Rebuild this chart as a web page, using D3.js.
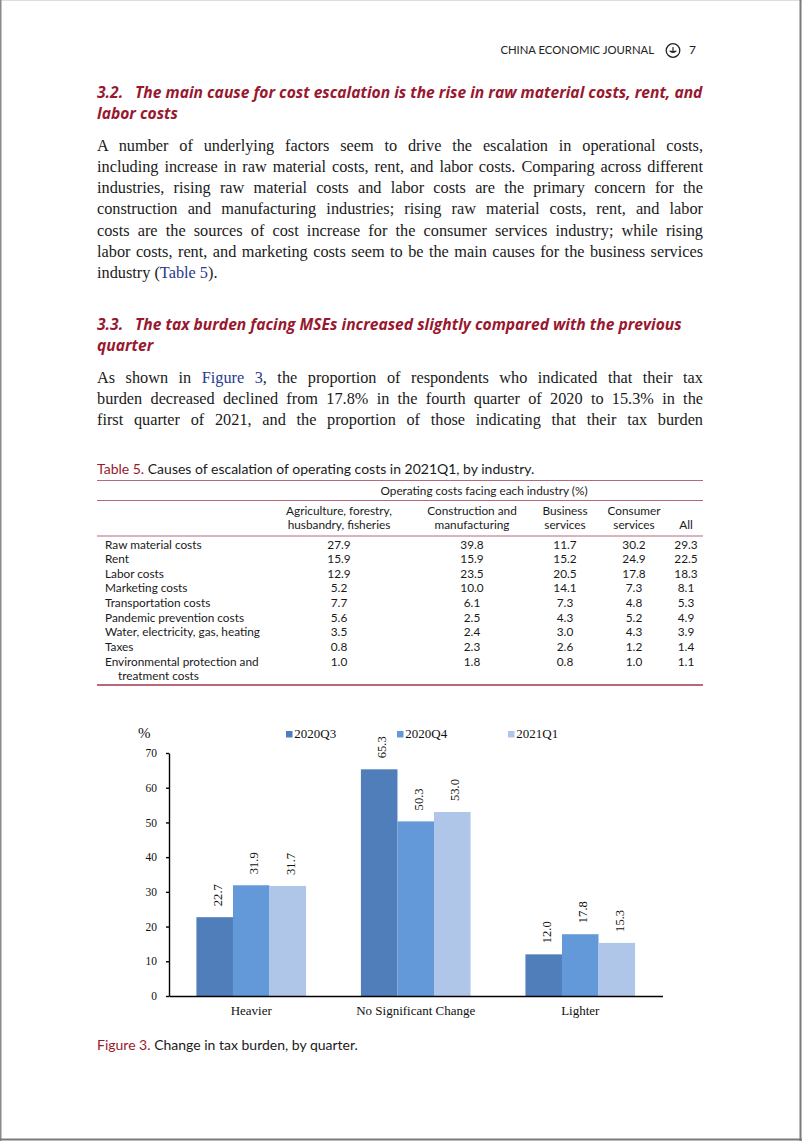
<!DOCTYPE html>
<html>
<head>
<meta charset="utf-8">
<script src="https://cdn.jsdelivr.net/npm/d3@7"></script>
<style>
  body { margin: 0; background: #fff; }
  svg { display: block; }
  .serif { font-family: "Liberation Serif", "Times New Roman", serif; }
  .sans { font-family: Lato, "Noto Sans", sans-serif; }
  .head { font-family: "Open Sans", "Noto Sans", sans-serif; }
</style>
</head>
<body>
<svg id="page" width="802" height="1141"></svg>
<script>
// ---- figure 3 data ----
var categories = ["Heavier", "No Significant Change", "Lighter"];
var quarters = ["2020Q3", "2020Q4", "2021Q1"];
var q3Values = [22.7, 65.3, 12.0];
var q4Values = [31.9, 50.3, 17.8];
var q1Values = [31.7, 53.0, 15.3];
var yTicks = [0, 10, 20, 30, 40, 50, 60, 70];

// ---- table 5 data ----
var tableHeaders = [
  ["Agriculture, forestry,", "husbandry, fisheries"],
  ["Construction and", "manufacturing"],
  ["Business", "services"],
  ["Consumer", "services"],
  ["All"]
];
var rowLabels = [
  ["Raw material costs"], ["Rent"], ["Labor costs"], ["Marketing costs"],
  ["Transportation costs"], ["Pandemic prevention costs"],
  ["Water, electricity, gas, heating"], ["Taxes"],
  ["Environmental protection and", "treatment costs"]
];
var agricultureCol = [27.9, 15.9, 12.9, 5.2, 7.7, 5.6, 3.5, 0.8, 1.0];
var constructionCol = [39.8, 15.9, 23.5, 10.0, 6.1, 2.5, 2.4, 2.3, 1.8];
var businessCol = [11.7, 15.2, 20.5, 14.1, 7.3, 4.3, 3.0, 2.6, 0.8];
var consumerCol = [30.2, 24.9, 17.8, 7.3, 4.8, 5.2, 4.3, 1.2, 1.0];
var allCol = [29.3, 22.5, 18.3, 8.1, 5.3, 4.9, 3.9, 1.4, 1.1];

// ---- page text ----
var heading32 = ["The main cause for cost escalation is the rise in raw material costs, rent, and", "labor costs"];
var para1 = [
  "A number of underlying factors seem to drive the escalation in operational costs,",
  "including increase in raw material costs, rent, and labor costs. Comparing across different",
  "industries, rising raw material costs and labor costs are the primary concern for the",
  "construction and manufacturing industries; rising raw material costs, rent, and labor",
  "costs are the sources of cost increase for the consumer services industry; while rising",
  "labor costs, rent, and marketing costs seem to be the main causes for the business services",
  "industry ([Table 5])."
];
var heading33 = ["The tax burden facing MSEs increased slightly compared with the previous", "quarter"];
var para2 = [
  "As shown in [Figure 3], the proportion of respondents who indicated that their tax",
  "burden decreased declined from 17.8% in the fourth quarter of 2020 to 15.3% in the",
  "first quarter of 2021, and the proportion of those indicating that their tax burden"
];

var RED = "#98192f", LINK = "#27398c", RULE = "#b8687a";
var LEFT = 97, RIGHT = 703;

var svg = d3.select("#page");

// page frame
svg.append("line").attr("x1", 0).attr("x2", 802).attr("y1", 0.5).attr("y2", 0.5).attr("stroke", "#ddd");
svg.append("line").attr("x1", 0.75).attr("x2", 0.75).attr("y1", 0).attr("y2", 1141).attr("stroke", "#8a8a8a").attr("stroke-width", 1.5);
svg.append("line").attr("x1", 800.5).attr("x2", 800.5).attr("y1", 0).attr("y2", 1141).attr("stroke", "#7a7a7a").attr("stroke-width", 2);
svg.append("line").attr("x1", 0).attr("x2", 802).attr("y1", 1139.5).attr("y2", 1139.5).attr("stroke", "#7a7a7a").attr("stroke-width", 2);

// running header
svg.append("text").attr("class", "sans").attr("x", 654).attr("y", 54)
  .attr("text-anchor", "end").attr("font-size", 11.3).attr("fill", "#222")
  .text("CHINA ECONOMIC JOURNAL");
var logo = svg.append("g").attr("transform", "translate(673,50.5)");
logo.append("circle").attr("r", 6.8).attr("fill", "none").attr("stroke", "#222").attr("stroke-width", 1.3);
logo.append("path").attr("d", "M-4.2,0.2 Q0,4.6 4.2,0.2 Z").attr("fill", "#222");
logo.append("rect").attr("x", -0.6).attr("y", -3.4).attr("width", 1.2).attr("height", 3.6).attr("fill", "#222");
svg.append("text").attr("class", "sans").attr("x", 689).attr("y", 54)
  .attr("font-size", 12).attr("fill", "#222").text("7");

// write one line; segments in [..] are links. justify stretches spaces to fill width
function writeLine(x, y, str, opt) {
  var t = svg.append("text").attr("x", x).attr("y", y)
    .attr("class", opt.cls).attr("font-size", opt.size)
    .attr("fill", opt.fill || "#1a1a1a")
    .style("white-space", "pre");
  if (opt.weight) t.attr("font-weight", opt.weight);
  if (opt.italic) t.attr("font-style", "italic");
  str.split(/(\[[^\]]+\])/).forEach(function(s) {
    if (!s) return;
    if (s.charAt(0) === "[") {
      t.append("tspan").attr("fill", LINK).text(s.slice(1, -1));
    } else {
      t.append("tspan").text(s);
    }
  });
  if (opt.width) {
    var natural = t.node().getComputedTextLength();
    var spaces = (str.match(/ /g) || []).length;
    if (spaces > 0) t.attr("word-spacing", ((opt.width - natural) / spaces).toFixed(3));
  }
  return t;
}

// heading size: first 3.2 line runs from x=135 to the right margin
var HEAD_X = 135;
var hopt = { cls: "head", size: 15, weight: "bold", italic: true, fill: RED };
var probe = writeLine(HEAD_X, -50, heading32[0], hopt);
hopt.size = 15 * (RIGHT - HEAD_X) / probe.node().getComputedTextLength();
probe.remove();

function heading(num, lines, y0) {
  writeLine(LEFT, y0, num, hopt);
  lines.forEach(function(l, i) {
    writeLine(i === 0 ? HEAD_X : LEFT, y0 + i * 20.8, l, hopt);
  });
}

function paragraph(lines, y0, lastJustified) {
  lines.forEach(function(l, i) {
    var justify = lastJustified || i < lines.length - 1;
    writeLine(LEFT, y0 + i * 21.05, l, {
      cls: "serif", size: 16.3, width: justify ? RIGHT - LEFT : null
    });
  });
}

heading("3.2.", heading32, 97.7);
paragraph(para1, 151.3, false);
heading("3.3.", heading33, 330);
paragraph(para2, 383.3, true);

// ---- table 5 ----
var table = svg.append("g").attr("class", "sans");
var cap = table.append("text").attr("x", LEFT).attr("y", 474).attr("font-size", 14).attr("fill", "#1a1a1a");
cap.append("tspan").attr("fill", RED).text("Table 5.");
cap.append("tspan").text(" Causes of escalation of operating costs in 2021Q1, by industry.");

[480.5, 500.5, 536].forEach(function(yy) {
  table.append("line").attr("x1", LEFT).attr("x2", RIGHT).attr("y1", yy).attr("y2", yy)
    .attr("stroke", RULE).attr("stroke-width", 1);
});
table.append("line").attr("x1", LEFT).attr("x2", RIGHT).attr("y1", 685).attr("y2", 685)
  .attr("stroke", RULE).attr("stroke-width", 2);

table.append("text").attr("x", 484).attr("y", 494.5).attr("text-anchor", "middle")
  .attr("font-size", 11.8).attr("fill", "#1a1a1a").text("Operating costs facing each industry (%)");

var colCenters = [339, 472, 565, 634, 686];
var columns = [agricultureCol, constructionCol, businessCol, consumerCol, allCol];

tableHeaders.forEach(function(h, c) {
  h.forEach(function(line, k) {
    table.append("text").attr("x", colCenters[c])
      .attr("y", 529 - (h.length - 1 - k) * 14.3)
      .attr("text-anchor", "middle").attr("font-size", 11.8).attr("fill", "#1a1a1a")
      .text(line);
  });
});

var rowY = d3.scaleLinear().domain([0, 1]).range([548.5, 563.15]);

rowLabels.forEach(function(lbl, r) {
  lbl.forEach(function(line, k) {
    table.append("text").attr("x", k === 0 ? 105 : 118).attr("y", rowY(r + k))
      .attr("font-size", 11.8).attr("fill", "#1a1a1a").text(line);
  });
});

columns.forEach(function(col, c) {
  table.selectAll("text.c" + c).data(col).enter().append("text")
    .attr("class", "c" + c)
    .attr("x", colCenters[c]).attr("y", function(d, r) { return rowY(r); })
    .attr("text-anchor", "middle").attr("font-size", 11.8).attr("fill", "#1a1a1a")
    .text(function(d) { return d3.format(".1f")(d); });
});

// ---- figure 3 ----
var colors = d3.scaleOrdinal().domain(quarters).range(["#4f7ebb", "#6399d8", "#afc6e8"]);
var series = [q3Values, q4Values, q1Values];

var x = d3.scaleBand().domain(categories).range([169, 662.5]).paddingInner(1 / 3).paddingOuter(1 / 6);
var xq = d3.scaleBand().domain(quarters).range([0, x.bandwidth()]);
var y = d3.scaleLinear().domain([0, 70]).range([996, 753]);

var fig = svg.append("g").attr("class", "serif");

var barData = [];
categories.forEach(function(cat, i) {
  quarters.forEach(function(q, j) {
    barData.push({ cat: cat, q: q, v: series[j][i] });
  });
});

fig.selectAll("rect.bar").data(barData).enter().append("rect")
  .attr("class", "bar")
  .attr("x", function(d) { return x(d.cat) + xq(d.q); })
  .attr("y", function(d) { return y(d.v); })
  .attr("width", xq.bandwidth())
  .attr("height", function(d) { return y(0) - y(d.v); })
  .attr("fill", function(d) { return colors(d.q); });

fig.selectAll("text.val").data(barData).enter().append("text")
  .attr("class", "val")
  .attr("transform", function(d) {
    var cx = x(d.cat) + xq(d.q) + xq.bandwidth() / 2;
    return "translate(" + (cx + 7) + "," + (y(d.v) - 11) + ") rotate(-90)";
  })
  .attr("font-size", 12.6).attr("fill", "#111")
  .text(function(d) { return d3.format(".1f")(d.v); });

var yAxis = fig.append("g").attr("transform", "translate(169,0)")
  .call(d3.axisLeft(y).tickValues(yTicks).tickSize(3).tickSizeOuter(0).tickPadding(9));
yAxis.selectAll("path, line").attr("stroke", "#000").attr("stroke-width", 1.4);
yAxis.selectAll("text").attr("font-family", "Liberation Serif, serif").attr("font-size", 11.5).attr("fill", "#111");

var xAxis = fig.append("g").attr("transform", "translate(0,996)")
  .call(d3.axisBottom(x).tickSize(0).tickPadding(10));
xAxis.select("path").attr("stroke", "#000").attr("stroke-width", 1.4);
xAxis.selectAll("text").attr("font-family", "Liberation Serif, serif").attr("font-size", 13).attr("fill", "#111");

fig.append("text").attr("x", 138).attr("y", 738).attr("font-size", 15).attr("fill", "#111").text("%");

var legendX = d3.scaleBand().domain(quarters).range([286, 619]);
var leg = fig.selectAll("g.leg").data(quarters).enter().append("g")
  .attr("class", "leg")
  .attr("transform", function(d) { return "translate(" + legendX(d) + ",731)"; });
leg.append("rect").attr("width", 6.5).attr("height", 6.5).attr("fill", function(d) { return colors(d); });
leg.append("text").attr("x", 8.3).attr("y", 7).attr("font-size", 13).attr("fill", "#111").text(function(d) { return d; });

var fcap = svg.append("text").attr("class", "sans").attr("x", LEFT).attr("y", 1050)
  .attr("font-size", 14).attr("fill", "#1a1a1a");
fcap.append("tspan").attr("fill", RED).text("Figure 3.");
fcap.append("tspan").text(" Change in tax burden, by quarter.");
</script>
</body>
</html>
